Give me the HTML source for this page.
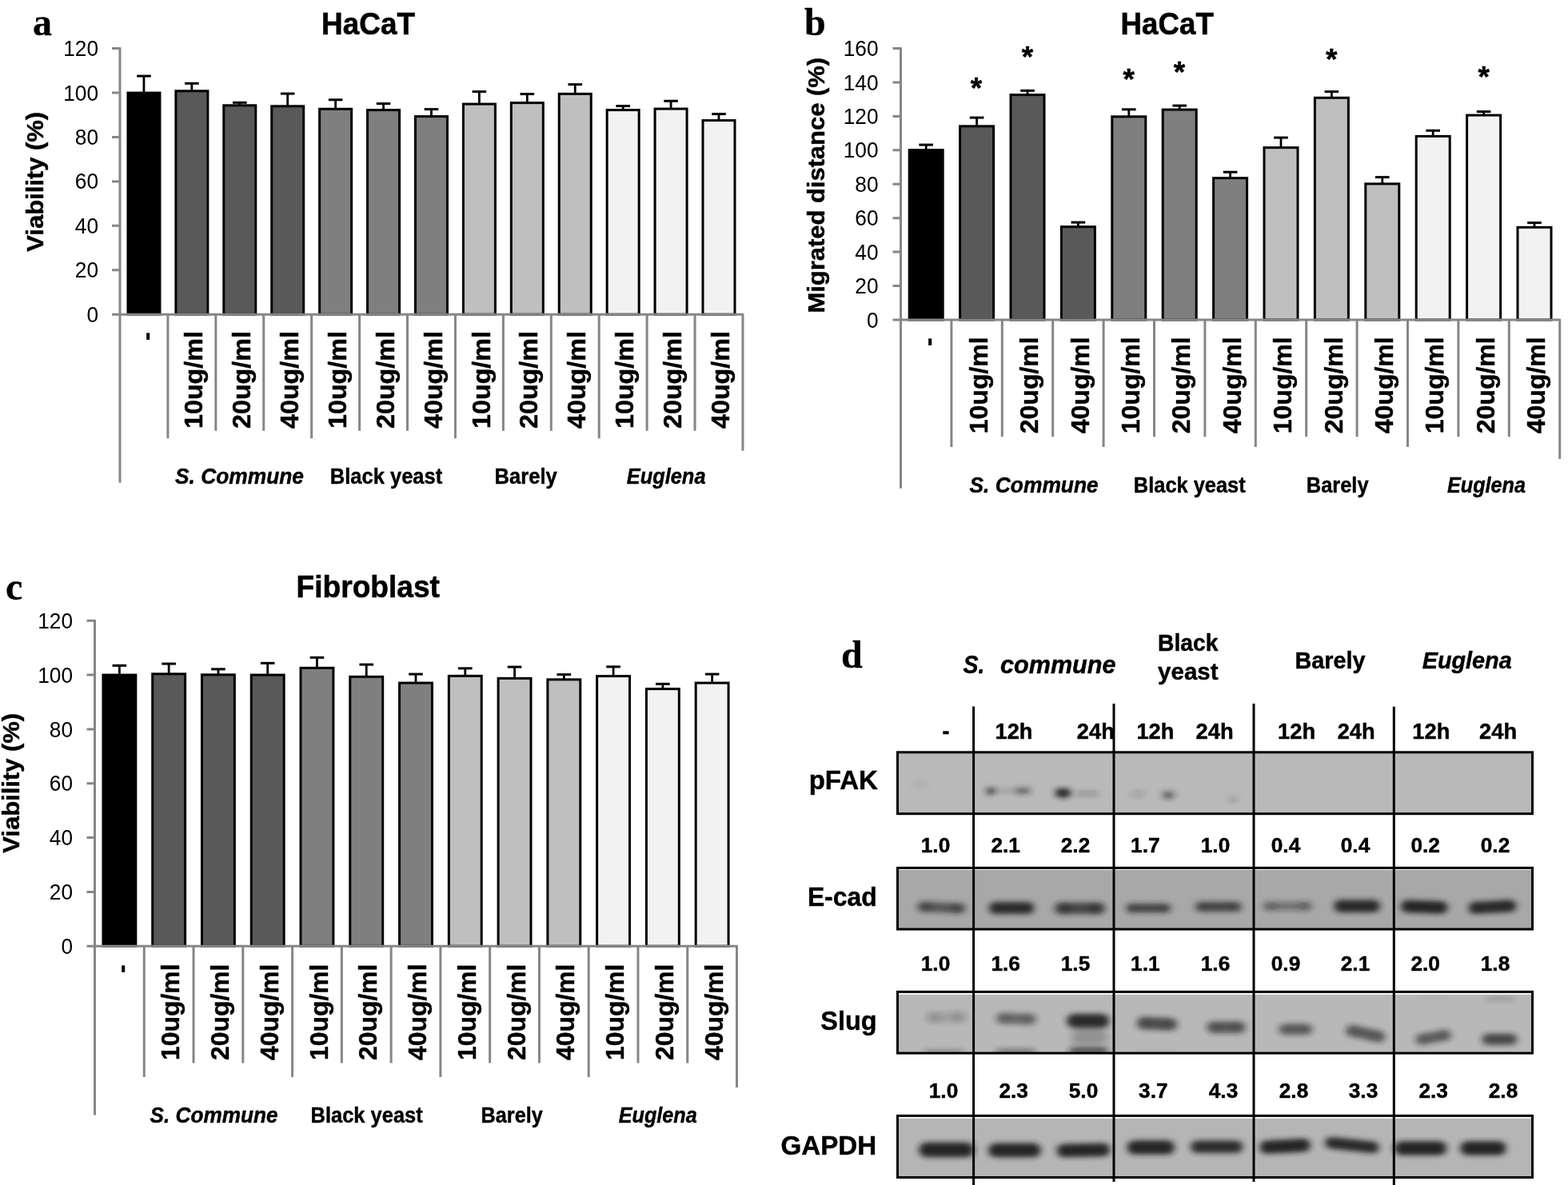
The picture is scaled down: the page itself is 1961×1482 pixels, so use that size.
<!DOCTYPE html>
<html lang="en">
<head>
<meta charset="utf-8">
<title>Figure: viability, migration and western blot</title>
<style>
html,body{margin:0;padding:0;background:#fff;}
body{width:1961px;height:1482px;overflow:hidden;}
svg{display:block;}
text{font-family:"Liberation Sans", sans-serif;fill:#000;}
text.sf{font-family:"Liberation Serif", serif;}
text.b{stroke:#000;stroke-width:0.45px;stroke-linejoin:round;}
text.sf.b{stroke-width:0.3px;}
text.m{stroke:#000;stroke-width:0.9px;stroke-linejoin:round;}
</style>
</head>
<body>
<svg width="1961" height="1482" viewBox="0 0 1961 1482">
<rect width="1961" height="1482" fill="#fff"/>
<g class="chart">
<line x1="179.96" y1="94.5" x2="179.96" y2="116" stroke="#000" stroke-width="2.8"/>
<line x1="171.16" y1="95.1" x2="188.76" y2="95.1" stroke="#000" stroke-width="3"/>
<rect x="159.96" y="116.1" width="40" height="277.15" fill="#000000" stroke="#000" stroke-width="3"/>
<line x1="239.88" y1="103.7" x2="239.88" y2="113.7" stroke="#000" stroke-width="2.8"/>
<line x1="231.08" y1="104.3" x2="248.68" y2="104.3" stroke="#000" stroke-width="3"/>
<rect x="219.88" y="113.8" width="40" height="279.45" fill="#595959" stroke="#000" stroke-width="3"/>
<line x1="299.8" y1="127.7" x2="299.8" y2="131.7" stroke="#000" stroke-width="2.8"/>
<line x1="291" y1="128.3" x2="308.6" y2="128.3" stroke="#000" stroke-width="3"/>
<rect x="279.8" y="131.8" width="40" height="261.45" fill="#595959" stroke="#000" stroke-width="3"/>
<line x1="359.72" y1="116.5" x2="359.72" y2="132.7" stroke="#000" stroke-width="2.8"/>
<line x1="350.92" y1="117.1" x2="368.52" y2="117.1" stroke="#000" stroke-width="3"/>
<rect x="339.72" y="132.8" width="40" height="260.45" fill="#595959" stroke="#000" stroke-width="3"/>
<line x1="419.64" y1="124.2" x2="419.64" y2="136.2" stroke="#000" stroke-width="2.8"/>
<line x1="410.84" y1="124.8" x2="428.44" y2="124.8" stroke="#000" stroke-width="3"/>
<rect x="399.64" y="136.3" width="40" height="256.95" fill="#7f7f7f" stroke="#000" stroke-width="3"/>
<line x1="479.56" y1="129" x2="479.56" y2="137.5" stroke="#000" stroke-width="2.8"/>
<line x1="470.76" y1="129.6" x2="488.36" y2="129.6" stroke="#000" stroke-width="3"/>
<rect x="459.56" y="137.6" width="40" height="255.65" fill="#7f7f7f" stroke="#000" stroke-width="3"/>
<line x1="539.48" y1="136" x2="539.48" y2="145.5" stroke="#000" stroke-width="2.8"/>
<line x1="530.68" y1="136.6" x2="548.28" y2="136.6" stroke="#000" stroke-width="3"/>
<rect x="519.48" y="145.6" width="40" height="247.65" fill="#7f7f7f" stroke="#000" stroke-width="3"/>
<line x1="599.4" y1="114" x2="599.4" y2="130" stroke="#000" stroke-width="2.8"/>
<line x1="590.6" y1="114.6" x2="608.2" y2="114.6" stroke="#000" stroke-width="3"/>
<rect x="579.4" y="130.1" width="40" height="263.15" fill="#bfbfbf" stroke="#000" stroke-width="3"/>
<line x1="659.32" y1="117" x2="659.32" y2="128.5" stroke="#000" stroke-width="2.8"/>
<line x1="650.52" y1="117.6" x2="668.12" y2="117.6" stroke="#000" stroke-width="3"/>
<rect x="639.32" y="128.6" width="40" height="264.65" fill="#bfbfbf" stroke="#000" stroke-width="3"/>
<line x1="719.24" y1="105" x2="719.24" y2="117.3" stroke="#000" stroke-width="2.8"/>
<line x1="710.44" y1="105.6" x2="728.04" y2="105.6" stroke="#000" stroke-width="3"/>
<rect x="699.24" y="117.4" width="40" height="275.85" fill="#bfbfbf" stroke="#000" stroke-width="3"/>
<line x1="779.16" y1="132" x2="779.16" y2="137.5" stroke="#000" stroke-width="2.8"/>
<line x1="770.36" y1="132.6" x2="787.96" y2="132.6" stroke="#000" stroke-width="3"/>
<rect x="759.16" y="137.6" width="40" height="255.65" fill="#f2f2f2" stroke="#000" stroke-width="3"/>
<line x1="839.08" y1="125.7" x2="839.08" y2="136" stroke="#000" stroke-width="2.8"/>
<line x1="830.28" y1="126.3" x2="847.88" y2="126.3" stroke="#000" stroke-width="3"/>
<rect x="819.08" y="136.1" width="40" height="257.15" fill="#f2f2f2" stroke="#000" stroke-width="3"/>
<line x1="899" y1="142" x2="899" y2="150.5" stroke="#000" stroke-width="2.8"/>
<line x1="890.2" y1="142.6" x2="907.8" y2="142.6" stroke="#000" stroke-width="3"/>
<rect x="879" y="150.6" width="40" height="242.65" fill="#f2f2f2" stroke="#000" stroke-width="3"/>
<path d="M150 59.3V603.75M140 393.25H930.16M140 60.5H150M140 115.96H150M140 171.42H150M140 226.88H150M140 282.33H150M140 337.79H150M209.92 393.25V548.25M269.84 393.25V538.75M329.76 393.25V538.75M389.68 393.25V548.25M449.6 393.25V538.75M509.52 393.25V538.75M569.44 393.25V548.25M629.36 393.25V538.75M689.28 393.25V538.75M749.2 393.25V548.25M809.12 393.25V538.75M869.04 393.25V538.75M928.96 393.25V563.75" fill="none" stroke="#868686" stroke-width="3"/>
<text x="123" y="70.1" font-size="27.8" text-anchor="end" textLength="43.8" lengthAdjust="spacingAndGlyphs">120</text>
<text x="123" y="125.56" font-size="27.8" text-anchor="end" textLength="43.8" lengthAdjust="spacingAndGlyphs">100</text>
<text x="123" y="181.02" font-size="27.8" text-anchor="end" textLength="29.2" lengthAdjust="spacingAndGlyphs">80</text>
<text x="123" y="236.47" font-size="27.8" text-anchor="end" textLength="29.2" lengthAdjust="spacingAndGlyphs">60</text>
<text x="123" y="291.93" font-size="27.8" text-anchor="end" textLength="29.2" lengthAdjust="spacingAndGlyphs">40</text>
<text x="123" y="347.39" font-size="27.8" text-anchor="end" textLength="29.2" lengthAdjust="spacingAndGlyphs">20</text>
<text x="123" y="402.85" font-size="27.8" text-anchor="end" textLength="14.6" lengthAdjust="spacingAndGlyphs">0</text>
<text x="252.98" y="536" font-size="31.5" font-weight="bold" textLength="122" lengthAdjust="spacingAndGlyphs" transform="rotate(-90 252.98 536)" class="b">10ug/ml</text>
<text x="312.9" y="536" font-size="31.5" font-weight="bold" textLength="122" lengthAdjust="spacingAndGlyphs" transform="rotate(-90 312.9 536)" class="b">20ug/ml</text>
<text x="372.82" y="536" font-size="31.5" font-weight="bold" textLength="122" lengthAdjust="spacingAndGlyphs" transform="rotate(-90 372.82 536)" class="b">40ug/ml</text>
<text x="432.74" y="536" font-size="31.5" font-weight="bold" textLength="122" lengthAdjust="spacingAndGlyphs" transform="rotate(-90 432.74 536)" class="b">10ug/ml</text>
<text x="492.66" y="536" font-size="31.5" font-weight="bold" textLength="122" lengthAdjust="spacingAndGlyphs" transform="rotate(-90 492.66 536)" class="b">20ug/ml</text>
<text x="552.58" y="536" font-size="31.5" font-weight="bold" textLength="122" lengthAdjust="spacingAndGlyphs" transform="rotate(-90 552.58 536)" class="b">40ug/ml</text>
<text x="612.5" y="536" font-size="31.5" font-weight="bold" textLength="122" lengthAdjust="spacingAndGlyphs" transform="rotate(-90 612.5 536)" class="b">10ug/ml</text>
<text x="672.42" y="536" font-size="31.5" font-weight="bold" textLength="122" lengthAdjust="spacingAndGlyphs" transform="rotate(-90 672.42 536)" class="b">20ug/ml</text>
<text x="732.34" y="536" font-size="31.5" font-weight="bold" textLength="122" lengthAdjust="spacingAndGlyphs" transform="rotate(-90 732.34 536)" class="b">40ug/ml</text>
<text x="792.26" y="536" font-size="31.5" font-weight="bold" textLength="122" lengthAdjust="spacingAndGlyphs" transform="rotate(-90 792.26 536)" class="b">10ug/ml</text>
<text x="852.18" y="536" font-size="31.5" font-weight="bold" textLength="122" lengthAdjust="spacingAndGlyphs" transform="rotate(-90 852.18 536)" class="b">20ug/ml</text>
<text x="912.1" y="536" font-size="31.5" font-weight="bold" textLength="122" lengthAdjust="spacingAndGlyphs" transform="rotate(-90 912.1 536)" class="b">40ug/ml</text>
<text x="192.96" y="426" font-size="31.5" font-weight="bold" transform="rotate(-90 192.96 426)" class="b">-</text>
<text x="219" y="605" font-size="27.5" font-weight="bold" font-style="italic" textLength="161" lengthAdjust="spacingAndGlyphs" class="b">S. Commune</text>
<text x="412.85" y="605" font-size="27.5" font-weight="bold" textLength="140.35" lengthAdjust="spacingAndGlyphs" class="b">Black yeast</text>
<text x="618.6" y="605" font-size="27.5" font-weight="bold" textLength="78.1" lengthAdjust="spacingAndGlyphs" class="b">Barely</text>
<text x="783.75" y="605" font-size="27.5" font-weight="bold" font-style="italic" textLength="98.75" lengthAdjust="spacingAndGlyphs" class="b">Euglena</text>
<text x="402.1" y="42.7" font-size="39.5" font-weight="bold" textLength="116.9" lengthAdjust="spacingAndGlyphs" class="b" style="stroke-width:0.6px">HaCaT</text>
<text x="54.3" y="314.8" font-size="29" font-weight="bold" textLength="175" lengthAdjust="spacingAndGlyphs" transform="rotate(-90 54.3 314.8)" class="b">Viability (%)</text>
<text x="41" y="44" font-size="48" font-weight="bold" class="b sf">a</text>
</g>
<g class="chart">
<line x1="1158.2" y1="180.5" x2="1158.2" y2="187.5" stroke="#000" stroke-width="2.8"/>
<line x1="1149.4" y1="181.1" x2="1167" y2="181.1" stroke="#000" stroke-width="3"/>
<rect x="1137.2" y="187.6" width="42" height="212.4" fill="#000000" stroke="#000" stroke-width="3"/>
<line x1="1221.6" y1="146.5" x2="1221.6" y2="157.75" stroke="#000" stroke-width="2.8"/>
<line x1="1212.8" y1="147.1" x2="1230.4" y2="147.1" stroke="#000" stroke-width="3"/>
<rect x="1200.6" y="157.85" width="42" height="242.15" fill="#595959" stroke="#000" stroke-width="3"/>
<line x1="1285" y1="112.75" x2="1285" y2="118.5" stroke="#000" stroke-width="2.8"/>
<line x1="1276.2" y1="113.35" x2="1293.8" y2="113.35" stroke="#000" stroke-width="3"/>
<rect x="1264" y="118.6" width="42" height="281.4" fill="#595959" stroke="#000" stroke-width="3"/>
<line x1="1348.4" y1="277.5" x2="1348.4" y2="283.5" stroke="#000" stroke-width="2.8"/>
<line x1="1339.6" y1="278.1" x2="1357.2" y2="278.1" stroke="#000" stroke-width="3"/>
<rect x="1327.4" y="283.6" width="42" height="116.4" fill="#595959" stroke="#000" stroke-width="3"/>
<line x1="1411.8" y1="136.25" x2="1411.8" y2="145.75" stroke="#000" stroke-width="2.8"/>
<line x1="1403" y1="136.85" x2="1420.6" y2="136.85" stroke="#000" stroke-width="3"/>
<rect x="1390.8" y="145.85" width="42" height="254.15" fill="#7f7f7f" stroke="#000" stroke-width="3"/>
<line x1="1475.2" y1="131.5" x2="1475.2" y2="137" stroke="#000" stroke-width="2.8"/>
<line x1="1466.4" y1="132.1" x2="1484" y2="132.1" stroke="#000" stroke-width="3"/>
<rect x="1454.2" y="137.1" width="42" height="262.9" fill="#7f7f7f" stroke="#000" stroke-width="3"/>
<line x1="1538.6" y1="214.6" x2="1538.6" y2="222.6" stroke="#000" stroke-width="2.8"/>
<line x1="1529.8" y1="215.2" x2="1547.4" y2="215.2" stroke="#000" stroke-width="3"/>
<rect x="1517.6" y="222.7" width="42" height="177.3" fill="#7f7f7f" stroke="#000" stroke-width="3"/>
<line x1="1602" y1="171.5" x2="1602" y2="184.5" stroke="#000" stroke-width="2.8"/>
<line x1="1593.2" y1="172.1" x2="1610.8" y2="172.1" stroke="#000" stroke-width="3"/>
<rect x="1581" y="184.6" width="42" height="215.4" fill="#bfbfbf" stroke="#000" stroke-width="3"/>
<line x1="1665.4" y1="114" x2="1665.4" y2="122.2" stroke="#000" stroke-width="2.8"/>
<line x1="1656.6" y1="114.6" x2="1674.2" y2="114.6" stroke="#000" stroke-width="3"/>
<rect x="1644.4" y="122.3" width="42" height="277.7" fill="#bfbfbf" stroke="#000" stroke-width="3"/>
<line x1="1728.8" y1="221" x2="1728.8" y2="229.8" stroke="#000" stroke-width="2.8"/>
<line x1="1720" y1="221.6" x2="1737.6" y2="221.6" stroke="#000" stroke-width="3"/>
<rect x="1707.8" y="229.9" width="42" height="170.1" fill="#bfbfbf" stroke="#000" stroke-width="3"/>
<line x1="1792.2" y1="162.7" x2="1792.2" y2="170.3" stroke="#000" stroke-width="2.8"/>
<line x1="1783.4" y1="163.3" x2="1801" y2="163.3" stroke="#000" stroke-width="3"/>
<rect x="1771.2" y="170.4" width="42" height="229.6" fill="#f2f2f2" stroke="#000" stroke-width="3"/>
<line x1="1855.6" y1="139" x2="1855.6" y2="144" stroke="#000" stroke-width="2.8"/>
<line x1="1846.8" y1="139.6" x2="1864.4" y2="139.6" stroke="#000" stroke-width="3"/>
<rect x="1834.6" y="144.1" width="42" height="255.9" fill="#f2f2f2" stroke="#000" stroke-width="3"/>
<line x1="1919" y1="278" x2="1919" y2="284.2" stroke="#000" stroke-width="2.8"/>
<line x1="1910.2" y1="278.6" x2="1927.8" y2="278.6" stroke="#000" stroke-width="3"/>
<rect x="1898" y="284.3" width="42" height="115.7" fill="#f2f2f2" stroke="#000" stroke-width="3"/>
<path d="M1126.5 59.3V610.75M1116.5 400H1951.9M1116.5 60.5H1126.5M1116.5 102.94H1126.5M1116.5 145.38H1126.5M1116.5 187.81H1126.5M1116.5 230.25H1126.5M1116.5 272.69H1126.5M1116.5 315.12H1126.5M1116.5 357.56H1126.5M1189.9 400V559M1253.3 400V546.25M1316.7 400V546.25M1380.1 400V559M1443.5 400V546.25M1506.9 400V546.25M1570.3 400V559M1633.7 400V546.25M1697.1 400V546.25M1760.5 400V559M1823.9 400V546.25M1887.3 400V546.25M1950.7 400V574" fill="none" stroke="#868686" stroke-width="3"/>
<text x="1098.5" y="70.1" font-size="27.8" text-anchor="end" textLength="43.8" lengthAdjust="spacingAndGlyphs">160</text>
<text x="1098.5" y="112.54" font-size="27.8" text-anchor="end" textLength="43.8" lengthAdjust="spacingAndGlyphs">140</text>
<text x="1098.5" y="154.97" font-size="27.8" text-anchor="end" textLength="43.8" lengthAdjust="spacingAndGlyphs">120</text>
<text x="1098.5" y="197.41" font-size="27.8" text-anchor="end" textLength="43.8" lengthAdjust="spacingAndGlyphs">100</text>
<text x="1098.5" y="239.85" font-size="27.8" text-anchor="end" textLength="29.2" lengthAdjust="spacingAndGlyphs">80</text>
<text x="1098.5" y="282.29" font-size="27.8" text-anchor="end" textLength="29.2" lengthAdjust="spacingAndGlyphs">60</text>
<text x="1098.5" y="324.73" font-size="27.8" text-anchor="end" textLength="29.2" lengthAdjust="spacingAndGlyphs">40</text>
<text x="1098.5" y="367.16" font-size="27.8" text-anchor="end" textLength="29.2" lengthAdjust="spacingAndGlyphs">20</text>
<text x="1098.5" y="409.6" font-size="27.8" text-anchor="end" textLength="14.6" lengthAdjust="spacingAndGlyphs">0</text>
<text x="1234.7" y="542.25" font-size="31.5" font-weight="bold" textLength="121" lengthAdjust="spacingAndGlyphs" transform="rotate(-90 1234.7 542.25)" class="b">10ug/ml</text>
<text x="1298.1" y="542.25" font-size="31.5" font-weight="bold" textLength="121" lengthAdjust="spacingAndGlyphs" transform="rotate(-90 1298.1 542.25)" class="b">20ug/ml</text>
<text x="1361.5" y="542.25" font-size="31.5" font-weight="bold" textLength="121" lengthAdjust="spacingAndGlyphs" transform="rotate(-90 1361.5 542.25)" class="b">40ug/ml</text>
<text x="1424.9" y="542.25" font-size="31.5" font-weight="bold" textLength="121" lengthAdjust="spacingAndGlyphs" transform="rotate(-90 1424.9 542.25)" class="b">10ug/ml</text>
<text x="1488.3" y="542.25" font-size="31.5" font-weight="bold" textLength="121" lengthAdjust="spacingAndGlyphs" transform="rotate(-90 1488.3 542.25)" class="b">20ug/ml</text>
<text x="1551.7" y="542.25" font-size="31.5" font-weight="bold" textLength="121" lengthAdjust="spacingAndGlyphs" transform="rotate(-90 1551.7 542.25)" class="b">40ug/ml</text>
<text x="1615.1" y="542.25" font-size="31.5" font-weight="bold" textLength="121" lengthAdjust="spacingAndGlyphs" transform="rotate(-90 1615.1 542.25)" class="b">10ug/ml</text>
<text x="1678.5" y="542.25" font-size="31.5" font-weight="bold" textLength="121" lengthAdjust="spacingAndGlyphs" transform="rotate(-90 1678.5 542.25)" class="b">20ug/ml</text>
<text x="1741.9" y="542.25" font-size="31.5" font-weight="bold" textLength="121" lengthAdjust="spacingAndGlyphs" transform="rotate(-90 1741.9 542.25)" class="b">40ug/ml</text>
<text x="1805.3" y="542.25" font-size="31.5" font-weight="bold" textLength="121" lengthAdjust="spacingAndGlyphs" transform="rotate(-90 1805.3 542.25)" class="b">10ug/ml</text>
<text x="1868.7" y="542.25" font-size="31.5" font-weight="bold" textLength="121" lengthAdjust="spacingAndGlyphs" transform="rotate(-90 1868.7 542.25)" class="b">20ug/ml</text>
<text x="1932.1" y="542.25" font-size="31.5" font-weight="bold" textLength="121" lengthAdjust="spacingAndGlyphs" transform="rotate(-90 1932.1 542.25)" class="b">40ug/ml</text>
<text x="1171.2" y="433" font-size="31.5" font-weight="bold" transform="rotate(-90 1171.2 433)" class="b">-</text>
<text x="1212.5" y="615.5" font-size="27.5" font-weight="bold" font-style="italic" textLength="161.25" lengthAdjust="spacingAndGlyphs" class="b">S. Commune</text>
<text x="1417.85" y="615.5" font-size="27.5" font-weight="bold" textLength="139.85" lengthAdjust="spacingAndGlyphs" class="b">Black yeast</text>
<text x="1633.8" y="615.5" font-size="27.5" font-weight="bold" textLength="77.8" lengthAdjust="spacingAndGlyphs" class="b">Barely</text>
<text x="1810" y="615.5" font-size="27.5" font-weight="bold" font-style="italic" textLength="98" lengthAdjust="spacingAndGlyphs" class="b">Euglena</text>
<text x="1401.6" y="42.7" font-size="39.5" font-weight="bold" textLength="116.2" lengthAdjust="spacingAndGlyphs" class="b" style="stroke-width:0.6px">HaCaT</text>
<text x="1031.3" y="391.5" font-size="29" font-weight="bold" textLength="319.5" lengthAdjust="spacingAndGlyphs" transform="rotate(-90 1031.3 391.5)" class="b">Migrated distance (%)</text>
<text x="1006" y="43.5" font-size="48" font-weight="bold" class="b sf">b</text>
<text x="1221" y="123" font-size="37" font-weight="bold" text-anchor="middle" class="b">*</text>
<text x="1285" y="84" font-size="37" font-weight="bold" text-anchor="middle" class="b">*</text>
<text x="1411.75" y="112" font-size="37" font-weight="bold" text-anchor="middle" class="b">*</text>
<text x="1475" y="103" font-size="37" font-weight="bold" text-anchor="middle" class="b">*</text>
<text x="1665.3" y="87" font-size="37" font-weight="bold" text-anchor="middle" class="b">*</text>
<text x="1855.6" y="109" font-size="37" font-weight="bold" text-anchor="middle" class="b">*</text>
</g>
<g class="chart">
<line x1="149.38" y1="831.75" x2="149.38" y2="844" stroke="#000" stroke-width="2.8"/>
<line x1="140.58" y1="832.35" x2="158.19" y2="832.35" stroke="#000" stroke-width="3"/>
<rect x="128.94" y="844.1" width="40.9" height="339.15" fill="#000000" stroke="#000" stroke-width="3"/>
<line x1="211.16" y1="829.5" x2="211.16" y2="842.75" stroke="#000" stroke-width="2.8"/>
<line x1="202.35" y1="830.1" x2="219.96" y2="830.1" stroke="#000" stroke-width="3"/>
<rect x="190.71" y="842.85" width="40.9" height="340.4" fill="#595959" stroke="#000" stroke-width="3"/>
<line x1="272.93" y1="836.25" x2="272.93" y2="843.75" stroke="#000" stroke-width="2.8"/>
<line x1="264.12" y1="836.85" x2="281.73" y2="836.85" stroke="#000" stroke-width="3"/>
<rect x="252.48" y="843.85" width="40.9" height="339.4" fill="#595959" stroke="#000" stroke-width="3"/>
<line x1="334.7" y1="828.75" x2="334.7" y2="844" stroke="#000" stroke-width="2.8"/>
<line x1="325.9" y1="829.35" x2="343.5" y2="829.35" stroke="#000" stroke-width="3"/>
<rect x="314.25" y="844.1" width="40.9" height="339.15" fill="#595959" stroke="#000" stroke-width="3"/>
<line x1="396.47" y1="821.75" x2="396.47" y2="835.25" stroke="#000" stroke-width="2.8"/>
<line x1="387.67" y1="822.35" x2="405.27" y2="822.35" stroke="#000" stroke-width="3"/>
<rect x="376.02" y="835.35" width="40.9" height="347.9" fill="#7f7f7f" stroke="#000" stroke-width="3"/>
<line x1="458.24" y1="830.5" x2="458.24" y2="846.25" stroke="#000" stroke-width="2.8"/>
<line x1="449.44" y1="831.1" x2="467.04" y2="831.1" stroke="#000" stroke-width="3"/>
<rect x="437.79" y="846.35" width="40.9" height="336.9" fill="#7f7f7f" stroke="#000" stroke-width="3"/>
<line x1="520" y1="842.5" x2="520" y2="854" stroke="#000" stroke-width="2.8"/>
<line x1="511.2" y1="843.1" x2="528.8" y2="843.1" stroke="#000" stroke-width="3"/>
<rect x="499.56" y="854.1" width="40.9" height="329.15" fill="#7f7f7f" stroke="#000" stroke-width="3"/>
<line x1="581.78" y1="835.25" x2="581.78" y2="845.25" stroke="#000" stroke-width="2.8"/>
<line x1="572.98" y1="835.85" x2="590.58" y2="835.85" stroke="#000" stroke-width="3"/>
<rect x="561.33" y="845.35" width="40.9" height="337.9" fill="#bfbfbf" stroke="#000" stroke-width="3"/>
<line x1="643.55" y1="833.5" x2="643.55" y2="848.25" stroke="#000" stroke-width="2.8"/>
<line x1="634.75" y1="834.1" x2="652.35" y2="834.1" stroke="#000" stroke-width="3"/>
<rect x="623.1" y="848.35" width="40.9" height="334.9" fill="#bfbfbf" stroke="#000" stroke-width="3"/>
<line x1="705.32" y1="843" x2="705.32" y2="849.75" stroke="#000" stroke-width="2.8"/>
<line x1="696.52" y1="843.6" x2="714.12" y2="843.6" stroke="#000" stroke-width="3"/>
<rect x="684.87" y="849.85" width="40.9" height="333.4" fill="#bfbfbf" stroke="#000" stroke-width="3"/>
<line x1="767.09" y1="833.25" x2="767.09" y2="845.5" stroke="#000" stroke-width="2.8"/>
<line x1="758.29" y1="833.85" x2="775.88" y2="833.85" stroke="#000" stroke-width="3"/>
<rect x="746.63" y="845.6" width="40.9" height="337.65" fill="#f2f2f2" stroke="#000" stroke-width="3"/>
<line x1="828.86" y1="854.75" x2="828.86" y2="861.5" stroke="#000" stroke-width="2.8"/>
<line x1="820.06" y1="855.35" x2="837.65" y2="855.35" stroke="#000" stroke-width="3"/>
<rect x="808.4" y="861.6" width="40.9" height="321.65" fill="#f2f2f2" stroke="#000" stroke-width="3"/>
<line x1="890.62" y1="842.5" x2="890.62" y2="854" stroke="#000" stroke-width="2.8"/>
<line x1="881.83" y1="843.1" x2="899.42" y2="843.1" stroke="#000" stroke-width="3"/>
<rect x="870.17" y="854.1" width="40.9" height="329.15" fill="#f2f2f2" stroke="#000" stroke-width="3"/>
<path d="M118.5 775.05V1394.5M108.5 1183.25H922.71M108.5 776.25H118.5M108.5 844.08H118.5M108.5 911.92H118.5M108.5 979.75H118.5M108.5 1047.58H118.5M108.5 1115.42H118.5M180.27 1183.25V1347M242.04 1183.25V1329.5M303.81 1183.25V1329.5M365.58 1183.25V1347M427.35 1183.25V1329.5M489.12 1183.25V1329.5M550.89 1183.25V1347M612.66 1183.25V1329.5M674.43 1183.25V1329.5M736.2 1183.25V1347M797.97 1183.25V1329.5M859.74 1183.25V1329.5M921.51 1183.25V1360" fill="none" stroke="#868686" stroke-width="3"/>
<text x="91" y="785.85" font-size="27.8" text-anchor="end" textLength="43.8" lengthAdjust="spacingAndGlyphs">120</text>
<text x="91" y="853.68" font-size="27.8" text-anchor="end" textLength="43.8" lengthAdjust="spacingAndGlyphs">100</text>
<text x="91" y="921.52" font-size="27.8" text-anchor="end" textLength="29.2" lengthAdjust="spacingAndGlyphs">80</text>
<text x="91" y="989.35" font-size="27.8" text-anchor="end" textLength="29.2" lengthAdjust="spacingAndGlyphs">60</text>
<text x="91" y="1057.18" font-size="27.8" text-anchor="end" textLength="29.2" lengthAdjust="spacingAndGlyphs">40</text>
<text x="91" y="1125.02" font-size="27.8" text-anchor="end" textLength="29.2" lengthAdjust="spacingAndGlyphs">20</text>
<text x="91" y="1192.85" font-size="27.8" text-anchor="end" textLength="14.6" lengthAdjust="spacingAndGlyphs">0</text>
<text x="224.25" y="1326" font-size="31.5" font-weight="bold" textLength="120.5" lengthAdjust="spacingAndGlyphs" transform="rotate(-90 224.25 1326)" class="b">10ug/ml</text>
<text x="286.03" y="1326" font-size="31.5" font-weight="bold" textLength="120.5" lengthAdjust="spacingAndGlyphs" transform="rotate(-90 286.03 1326)" class="b">20ug/ml</text>
<text x="347.8" y="1326" font-size="31.5" font-weight="bold" textLength="120.5" lengthAdjust="spacingAndGlyphs" transform="rotate(-90 347.8 1326)" class="b">40ug/ml</text>
<text x="409.57" y="1326" font-size="31.5" font-weight="bold" textLength="120.5" lengthAdjust="spacingAndGlyphs" transform="rotate(-90 409.57 1326)" class="b">10ug/ml</text>
<text x="471.34" y="1326" font-size="31.5" font-weight="bold" textLength="120.5" lengthAdjust="spacingAndGlyphs" transform="rotate(-90 471.34 1326)" class="b">20ug/ml</text>
<text x="533.11" y="1326" font-size="31.5" font-weight="bold" textLength="120.5" lengthAdjust="spacingAndGlyphs" transform="rotate(-90 533.11 1326)" class="b">40ug/ml</text>
<text x="594.88" y="1326" font-size="31.5" font-weight="bold" textLength="120.5" lengthAdjust="spacingAndGlyphs" transform="rotate(-90 594.88 1326)" class="b">10ug/ml</text>
<text x="656.65" y="1326" font-size="31.5" font-weight="bold" textLength="120.5" lengthAdjust="spacingAndGlyphs" transform="rotate(-90 656.65 1326)" class="b">20ug/ml</text>
<text x="718.42" y="1326" font-size="31.5" font-weight="bold" textLength="120.5" lengthAdjust="spacingAndGlyphs" transform="rotate(-90 718.42 1326)" class="b">40ug/ml</text>
<text x="780.19" y="1326" font-size="31.5" font-weight="bold" textLength="120.5" lengthAdjust="spacingAndGlyphs" transform="rotate(-90 780.19 1326)" class="b">10ug/ml</text>
<text x="841.96" y="1326" font-size="31.5" font-weight="bold" textLength="120.5" lengthAdjust="spacingAndGlyphs" transform="rotate(-90 841.96 1326)" class="b">20ug/ml</text>
<text x="903.73" y="1326" font-size="31.5" font-weight="bold" textLength="120.5" lengthAdjust="spacingAndGlyphs" transform="rotate(-90 903.73 1326)" class="b">40ug/ml</text>
<text x="162.38" y="1217" font-size="31.5" font-weight="bold" transform="rotate(-90 162.38 1217)" class="b">-</text>
<text x="187.5" y="1403.75" font-size="27.5" font-weight="bold" font-style="italic" textLength="160" lengthAdjust="spacingAndGlyphs" class="b">S. Commune</text>
<text x="388.6" y="1403.75" font-size="27.5" font-weight="bold" textLength="140.1" lengthAdjust="spacingAndGlyphs" class="b">Black yeast</text>
<text x="601.6" y="1403.75" font-size="27.5" font-weight="bold" textLength="77.1" lengthAdjust="spacingAndGlyphs" class="b">Barely</text>
<text x="773.75" y="1403.75" font-size="27.5" font-weight="bold" font-style="italic" textLength="98" lengthAdjust="spacingAndGlyphs" class="b">Euglena</text>
<text x="370.6" y="746.8" font-size="39.5" font-weight="bold" textLength="179.4" lengthAdjust="spacingAndGlyphs" class="b" style="stroke-width:0.6px">Fibroblast</text>
<text x="24" y="1066.8" font-size="29" font-weight="bold" textLength="175" lengthAdjust="spacingAndGlyphs" transform="rotate(-90 24 1066.8)" class="b">Viability (%)</text>
<text x="7" y="750" font-size="48" font-weight="bold" class="b sf">c</text>
</g>
<defs><filter id="bl" x="-5%" y="-5%" width="110%" height="110%" filterUnits="userSpaceOnUse" primitiveUnits="userSpaceOnUse"><feGaussianBlur stdDeviation="4.0 3.0"/></filter>
<clipPath id="cp-pfak"><rect x="1122.5" y="940.8" width="794" height="76.9"/></clipPath>
<clipPath id="cp-ecad"><rect x="1122.5" y="1085.4" width="794" height="76.7"/></clipPath>
<clipPath id="cp-slug"><rect x="1122.5" y="1240.4" width="794" height="76.7"/></clipPath>
<clipPath id="cp-gapdh"><rect x="1122.5" y="1395.4" width="794" height="77.1"/></clipPath>
</defs>
<g class="strip" id="pfak">
<rect x="1122.5" y="940.8" width="794" height="76.9" fill="#b9b9b9"/>
<g clip-path="url(#cp-pfak)"><g filter="url(#bl)" stroke="#1e1e1e" stroke-linecap="round" fill="#1e1e1e">
<line x1="1237.55" y1="989.3" x2="1240.45" y2="989.3" stroke-width="8.5" stroke-opacity="0.75"/>
<line x1="1273.55" y1="989" x2="1284.95" y2="989" stroke-width="7.5" stroke-opacity="0.55"/>
<line x1="1244.55" y1="989" x2="1271.45" y2="989" stroke-width="3.5" stroke-opacity="0.2"/>
<line x1="1325.55" y1="991.8" x2="1333.45" y2="991.8" stroke-width="11.5" stroke-opacity="0.95"/>
<line x1="1347.55" y1="992.5" x2="1371.45" y2="992.5" stroke-width="5.5" stroke-opacity="0.25"/>
<line x1="1418.05" y1="993" x2="1427.95" y2="993" stroke-width="6.5" stroke-opacity="0.2"/>
<line x1="1458.3" y1="994.4" x2="1464.2" y2="994.4" stroke-width="9" stroke-opacity="0.6"/>
<line x1="1142.55" y1="981" x2="1158.45" y2="981" stroke-width="5.5" stroke-opacity="0.08"/>
<line x1="1539.55" y1="999.7" x2="1544.45" y2="999.7" stroke-width="5.5" stroke-opacity="0.25"/>
</g></g>
<rect x="1122.5" y="940.8" width="794" height="76.9" fill="none" stroke="#000" stroke-width="3"/>
</g>
<g class="strip" id="ecad">
<rect x="1122.5" y="1085.4" width="794" height="76.7" fill="#a8a8a8"/>
<g clip-path="url(#cp-ecad)"><g filter="url(#bl)" stroke="#1e1e1e" stroke-linecap="round" fill="#1e1e1e">
<line x1="1154.55" y1="1134" x2="1200.25" y2="1136" stroke-width="12.5" stroke-opacity="0.6"/>
<ellipse cx="1156.55" cy="1134" rx="9.75" ry="6.75" stroke="none" fill-opacity="0.3"/>
<ellipse cx="1198.25" cy="1136" rx="9.75" ry="6.75" stroke="none" fill-opacity="0.3"/>
<line x1="1244.7" y1="1135.6" x2="1285.7" y2="1135.6" stroke-width="15" stroke-opacity="0.9"/>
<ellipse cx="1246.7" cy="1135.6" rx="11" ry="8" stroke="none" fill-opacity="0.1"/>
<ellipse cx="1283.7" cy="1135.6" rx="11" ry="8" stroke="none" fill-opacity="0.1"/>
<line x1="1327.05" y1="1136" x2="1373.95" y2="1136" stroke-width="14.5" stroke-opacity="0.7"/>
<ellipse cx="1329.05" cy="1136" rx="10.75" ry="7.75" stroke="none" fill-opacity="0.3"/>
<ellipse cx="1371.95" cy="1136" rx="10.75" ry="7.75" stroke="none" fill-opacity="0.3"/>
<line x1="1414.1" y1="1135.8" x2="1458.2" y2="1135.8" stroke-width="11" stroke-opacity="0.72"/>
<ellipse cx="1416.1" cy="1135.8" rx="9" ry="6" stroke="none" fill-opacity="0.1"/>
<ellipse cx="1456.2" cy="1135.8" rx="9" ry="6" stroke="none" fill-opacity="0.1"/>
<line x1="1501.4" y1="1134" x2="1546.2" y2="1134" stroke-width="12" stroke-opacity="0.72"/>
<ellipse cx="1503.4" cy="1134" rx="9.5" ry="6.5" stroke="none" fill-opacity="0.1"/>
<ellipse cx="1544.2" cy="1134" rx="9.5" ry="6.5" stroke="none" fill-opacity="0.1"/>
<line x1="1586.05" y1="1133.3" x2="1634.75" y2="1133.3" stroke-width="10.5" stroke-opacity="0.4"/>
<ellipse cx="1588.05" cy="1133.3" rx="8.75" ry="5.75" stroke="none" fill-opacity="0.25"/>
<ellipse cx="1632.75" cy="1133.3" rx="8.75" ry="5.75" stroke="none" fill-opacity="0.25"/>
<line x1="1676.35" y1="1133.3" x2="1717.95" y2="1133.3" stroke-width="15.5" stroke-opacity="0.92"/>
<ellipse cx="1678.35" cy="1133.3" rx="11.25" ry="8.25" stroke="none" fill-opacity="0.08"/>
<ellipse cx="1715.95" cy="1133.3" rx="11.25" ry="8.25" stroke="none" fill-opacity="0.08"/>
<line x1="1759.95" y1="1133.5" x2="1802.65" y2="1135" stroke-width="15.5" stroke-opacity="0.95"/>
<ellipse cx="1761.95" cy="1133.5" rx="11.25" ry="8.25" stroke="none" fill-opacity="0.05"/>
<ellipse cx="1800.65" cy="1135" rx="11.25" ry="8.25" stroke="none" fill-opacity="0.05"/>
<line x1="1844.3" y1="1135.5" x2="1888.7" y2="1133" stroke-width="15" stroke-opacity="0.92"/>
<ellipse cx="1846.3" cy="1135.5" rx="11" ry="8" stroke="none" fill-opacity="0.08"/>
<ellipse cx="1886.7" cy="1133" rx="11" ry="8" stroke="none" fill-opacity="0.08"/>
</g></g>
<rect x="1124" y="1086.9" width="791" height="1.0" fill="#fff" fill-opacity="0.9"/>
<rect x="1122.5" y="1085.4" width="794" height="76.7" fill="none" stroke="#000" stroke-width="3"/>
</g>
<g class="strip" id="slug">
<rect x="1122.5" y="1240.4" width="794" height="76.7" fill="#b8b8b8"/>
<g clip-path="url(#cp-slug)"><g filter="url(#bl)" stroke="#1e1e1e" stroke-linecap="round" fill="#1e1e1e">
<line x1="1166.05" y1="1272.5" x2="1200.95" y2="1272" stroke-width="12.5" stroke-opacity="0.17"/>
<ellipse cx="1168.05" cy="1272.5" rx="9.75" ry="6.75" stroke="none" fill-opacity="0.12"/>
<ellipse cx="1198.95" cy="1272" rx="9.75" ry="6.75" stroke="none" fill-opacity="0.12"/>
<line x1="1253.35" y1="1273.5" x2="1288.45" y2="1274.5" stroke-width="13.5" stroke-opacity="0.52"/>
<ellipse cx="1255.35" cy="1273.5" rx="10.25" ry="7.25" stroke="none" fill-opacity="0.12"/>
<ellipse cx="1286.45" cy="1274.5" rx="10.25" ry="7.25" stroke="none" fill-opacity="0.12"/>
<line x1="1343.15" y1="1276.8" x2="1378.45" y2="1276.8" stroke-width="17.5" stroke-opacity="0.92"/>
<ellipse cx="1345.15" cy="1276.8" rx="12.25" ry="9.25" stroke="none" fill-opacity="0.05"/>
<ellipse cx="1376.45" cy="1276.8" rx="12.25" ry="9.25" stroke="none" fill-opacity="0.05"/>
<line x1="1349.55" y1="1297" x2="1375.45" y2="1297" stroke-width="19.5" stroke-opacity="0.25"/>
<line x1="1341.55" y1="1314" x2="1381.45" y2="1314" stroke-width="7.5" stroke-opacity="0.75"/>
<line x1="1249.05" y1="1315" x2="1291.95" y2="1315" stroke-width="6.5" stroke-opacity="0.45"/>
<line x1="1158.55" y1="1315.5" x2="1202.45" y2="1315.5" stroke-width="5.5" stroke-opacity="0.3"/>
<line x1="1429.95" y1="1279.5" x2="1464.25" y2="1281" stroke-width="15.5" stroke-opacity="0.68"/>
<ellipse cx="1431.95" cy="1279.5" rx="11.25" ry="8.25" stroke="none" fill-opacity="0.1"/>
<ellipse cx="1462.25" cy="1281" rx="11.25" ry="8.25" stroke="none" fill-opacity="0.1"/>
<line x1="1424.55" y1="1317" x2="1465.45" y2="1317" stroke-width="3.5" stroke-opacity="0.1"/>
<line x1="1517.05" y1="1284.8" x2="1549.95" y2="1284.8" stroke-width="14.5" stroke-opacity="0.64"/>
<ellipse cx="1519.05" cy="1284.8" rx="10.75" ry="7.75" stroke="none" fill-opacity="0.1"/>
<ellipse cx="1547.95" cy="1284.8" rx="10.75" ry="7.75" stroke="none" fill-opacity="0.1"/>
<line x1="1606.35" y1="1287.3" x2="1634.25" y2="1287.3" stroke-width="13.5" stroke-opacity="0.62"/>
<line x1="1690.45" y1="1289" x2="1724.75" y2="1296.5" stroke-width="14.5" stroke-opacity="0.62"/>
<ellipse cx="1692.45" cy="1289" rx="10.75" ry="7.75" stroke="none" fill-opacity="0.05"/>
<ellipse cx="1722.75" cy="1296.5" rx="10.75" ry="7.75" stroke="none" fill-opacity="0.05"/>
<line x1="1777.55" y1="1299.8" x2="1807.75" y2="1294.6" stroke-width="13.5" stroke-opacity="0.58"/>
<ellipse cx="1779.55" cy="1299.8" rx="10.25" ry="7.25" stroke="none" fill-opacity="0.1"/>
<ellipse cx="1805.75" cy="1294.6" rx="10.25" ry="7.25" stroke="none" fill-opacity="0.1"/>
<line x1="1860.6" y1="1299.8" x2="1890.2" y2="1299.8" stroke-width="14" stroke-opacity="0.72"/>
<line x1="1860.55" y1="1249" x2="1891.45" y2="1249" stroke-width="5.5" stroke-opacity="0.18"/>
<line x1="1776.3" y1="1246" x2="1810.7" y2="1246" stroke-width="3" stroke-opacity="0.08"/>
</g></g>
<rect x="1124" y="1241.9" width="791" height="2.0" fill="#fff" fill-opacity="0.9"/>
<rect x="1122.5" y="1240.4" width="794" height="76.7" fill="none" stroke="#000" stroke-width="3"/>
</g>
<g class="strip" id="gapdh">
<rect x="1122.5" y="1395.4" width="794" height="77.1" fill="#b5b5b5"/>
<g clip-path="url(#cp-gapdh)"><g filter="url(#bl)" stroke="#1e1e1e" stroke-linecap="round" fill="#1e1e1e">
<line x1="1158.65" y1="1438" x2="1208.75" y2="1438" stroke-width="18.5" stroke-opacity="0.95"/>
<line x1="1244.95" y1="1438.5" x2="1292.85" y2="1438.5" stroke-width="17.5" stroke-opacity="0.95"/>
<line x1="1330.05" y1="1439" x2="1379.95" y2="1438" stroke-width="16.5" stroke-opacity="0.95"/>
<line x1="1418.45" y1="1435" x2="1460.15" y2="1435" stroke-width="17.5" stroke-opacity="0.95"/>
<line x1="1496.85" y1="1434.3" x2="1546.45" y2="1434.3" stroke-width="15.5" stroke-opacity="0.9"/>
<line x1="1583.75" y1="1434.8" x2="1630.65" y2="1432.3" stroke-width="16.5" stroke-opacity="0.95"/>
<line x1="1664.35" y1="1429.3" x2="1717.35" y2="1435" stroke-width="14.5" stroke-opacity="0.92"/>
<line x1="1752.55" y1="1436" x2="1800.45" y2="1436" stroke-width="17.5" stroke-opacity="0.95"/>
<line x1="1835.15" y1="1436" x2="1874.75" y2="1436" stroke-width="17.5" stroke-opacity="0.95"/>
</g></g>
<rect x="1124" y="1396.9" width="791" height="2.0" fill="#fff" fill-opacity="0.9"/>
<rect x="1122.5" y="1395.4" width="794" height="77.1" fill="none" stroke="#000" stroke-width="3"/>
</g>
<line x1="1217.6" y1="883.6" x2="1217.6" y2="1482" stroke="#000" stroke-width="3"/>
<line x1="1393.0" y1="880" x2="1393.0" y2="1478" stroke="#000" stroke-width="3"/>
<line x1="1568.0" y1="880" x2="1568.0" y2="1478" stroke="#000" stroke-width="3"/>
<line x1="1743.3" y1="883.8" x2="1743.3" y2="1482" stroke="#000" stroke-width="3"/>
<text x="1011.7" y="987.4" font-size="32.5" font-weight="bold" textLength="86.2" lengthAdjust="spacingAndGlyphs" class="b">pFAK</text>
<text x="1009.9" y="1132.8" font-size="32.5" font-weight="bold" textLength="86.7" lengthAdjust="spacingAndGlyphs" class="b">E-cad</text>
<text x="1026.3" y="1288.4" font-size="32.5" font-weight="bold" textLength="70.3" lengthAdjust="spacingAndGlyphs" class="b">Slug</text>
<text x="976.5" y="1444.3" font-size="32.5" font-weight="bold" textLength="119.6" lengthAdjust="spacingAndGlyphs" class="b">GAPDH</text>
<text x="1170" y="1065.6" font-size="25.7" font-weight="bold" text-anchor="middle" textLength="36.5" lengthAdjust="spacingAndGlyphs" class="b">1.0</text>
<text x="1257.7" y="1065.6" font-size="25.7" font-weight="bold" text-anchor="middle" textLength="36.5" lengthAdjust="spacingAndGlyphs" class="b">2.1</text>
<text x="1345" y="1065.6" font-size="25.7" font-weight="bold" text-anchor="middle" textLength="36.5" lengthAdjust="spacingAndGlyphs" class="b">2.2</text>
<text x="1432.3" y="1065.6" font-size="25.7" font-weight="bold" text-anchor="middle" textLength="36.5" lengthAdjust="spacingAndGlyphs" class="b">1.7</text>
<text x="1520" y="1065.6" font-size="25.7" font-weight="bold" text-anchor="middle" textLength="36.5" lengthAdjust="spacingAndGlyphs" class="b">1.0</text>
<text x="1608" y="1065.6" font-size="25.7" font-weight="bold" text-anchor="middle" textLength="36.5" lengthAdjust="spacingAndGlyphs" class="b">0.4</text>
<text x="1695" y="1065.6" font-size="25.7" font-weight="bold" text-anchor="middle" textLength="36.5" lengthAdjust="spacingAndGlyphs" class="b">0.4</text>
<text x="1782.7" y="1065.6" font-size="25.7" font-weight="bold" text-anchor="middle" textLength="36.5" lengthAdjust="spacingAndGlyphs" class="b">0.2</text>
<text x="1870" y="1065.6" font-size="25.7" font-weight="bold" text-anchor="middle" textLength="36.5" lengthAdjust="spacingAndGlyphs" class="b">0.2</text>
<text x="1170" y="1214" font-size="25.7" font-weight="bold" text-anchor="middle" textLength="36.5" lengthAdjust="spacingAndGlyphs" class="b">1.0</text>
<text x="1257.7" y="1214" font-size="25.7" font-weight="bold" text-anchor="middle" textLength="36.5" lengthAdjust="spacingAndGlyphs" class="b">1.6</text>
<text x="1345" y="1214" font-size="25.7" font-weight="bold" text-anchor="middle" textLength="36.5" lengthAdjust="spacingAndGlyphs" class="b">1.5</text>
<text x="1432.3" y="1214" font-size="25.7" font-weight="bold" text-anchor="middle" textLength="36.5" lengthAdjust="spacingAndGlyphs" class="b">1.1</text>
<text x="1520" y="1214" font-size="25.7" font-weight="bold" text-anchor="middle" textLength="36.5" lengthAdjust="spacingAndGlyphs" class="b">1.6</text>
<text x="1608" y="1214" font-size="25.7" font-weight="bold" text-anchor="middle" textLength="36.5" lengthAdjust="spacingAndGlyphs" class="b">0.9</text>
<text x="1695" y="1214" font-size="25.7" font-weight="bold" text-anchor="middle" textLength="36.5" lengthAdjust="spacingAndGlyphs" class="b">2.1</text>
<text x="1782.7" y="1214" font-size="25.7" font-weight="bold" text-anchor="middle" textLength="36.5" lengthAdjust="spacingAndGlyphs" class="b">2.0</text>
<text x="1870" y="1214" font-size="25.7" font-weight="bold" text-anchor="middle" textLength="36.5" lengthAdjust="spacingAndGlyphs" class="b">1.8</text>
<text x="1180" y="1372.5" font-size="25.7" font-weight="bold" text-anchor="middle" textLength="36.5" lengthAdjust="spacingAndGlyphs" class="b">1.0</text>
<text x="1267.7" y="1372.5" font-size="25.7" font-weight="bold" text-anchor="middle" textLength="36.5" lengthAdjust="spacingAndGlyphs" class="b">2.3</text>
<text x="1355" y="1372.5" font-size="25.7" font-weight="bold" text-anchor="middle" textLength="36.5" lengthAdjust="spacingAndGlyphs" class="b">5.0</text>
<text x="1442.3" y="1372.5" font-size="25.7" font-weight="bold" text-anchor="middle" textLength="36.5" lengthAdjust="spacingAndGlyphs" class="b">3.7</text>
<text x="1530" y="1372.5" font-size="25.7" font-weight="bold" text-anchor="middle" textLength="36.5" lengthAdjust="spacingAndGlyphs" class="b">4.3</text>
<text x="1618" y="1372.5" font-size="25.7" font-weight="bold" text-anchor="middle" textLength="36.5" lengthAdjust="spacingAndGlyphs" class="b">2.8</text>
<text x="1705" y="1372.5" font-size="25.7" font-weight="bold" text-anchor="middle" textLength="36.5" lengthAdjust="spacingAndGlyphs" class="b">3.3</text>
<text x="1792.7" y="1372.5" font-size="25.7" font-weight="bold" text-anchor="middle" textLength="36.5" lengthAdjust="spacingAndGlyphs" class="b">2.3</text>
<text x="1880" y="1372.5" font-size="25.7" font-weight="bold" text-anchor="middle" textLength="36.5" lengthAdjust="spacingAndGlyphs" class="b">2.8</text>
<text x="1244.5" y="924" font-size="26.8" font-weight="bold" textLength="47" lengthAdjust="spacingAndGlyphs" class="b">12h</text>
<text x="1346.8" y="924" font-size="26.8" font-weight="bold" textLength="47.1" lengthAdjust="spacingAndGlyphs" class="b">24h</text>
<text x="1421.4" y="924" font-size="26.8" font-weight="bold" textLength="47" lengthAdjust="spacingAndGlyphs" class="b">12h</text>
<text x="1495.5" y="924" font-size="26.8" font-weight="bold" textLength="47.2" lengthAdjust="spacingAndGlyphs" class="b">24h</text>
<text x="1598.1" y="924" font-size="26.8" font-weight="bold" textLength="47.2" lengthAdjust="spacingAndGlyphs" class="b">12h</text>
<text x="1672.7" y="924" font-size="26.8" font-weight="bold" textLength="47" lengthAdjust="spacingAndGlyphs" class="b">24h</text>
<text x="1766.3" y="924" font-size="26.8" font-weight="bold" textLength="47" lengthAdjust="spacingAndGlyphs" class="b">12h</text>
<text x="1850.1" y="924" font-size="26.8" font-weight="bold" textLength="47" lengthAdjust="spacingAndGlyphs" class="b">24h</text>
<text x="1183" y="924" font-size="26.8" font-weight="bold" text-anchor="middle" class="b">-</text>
<text x="1204.5" y="842" font-size="31" font-weight="bold" font-style="italic" textLength="27" lengthAdjust="spacingAndGlyphs" class="b">S.</text>
<text x="1251" y="842" font-size="31" font-weight="bold" font-style="italic" textLength="144.5" lengthAdjust="spacingAndGlyphs" class="b">commune</text>
<text x="1448.1" y="813.8" font-size="30" font-weight="bold" textLength="75.4" lengthAdjust="spacingAndGlyphs" class="b">Black</text>
<text x="1448.1" y="849.7" font-size="30" font-weight="bold" textLength="75.4" lengthAdjust="spacingAndGlyphs" class="b">yeast</text>
<text x="1619.4" y="835.6" font-size="30" font-weight="bold" textLength="88" lengthAdjust="spacingAndGlyphs" class="b">Barely</text>
<text x="1778.7" y="835.6" font-size="30" font-weight="bold" font-style="italic" textLength="112" lengthAdjust="spacingAndGlyphs" class="b">Euglena</text>
<text x="1052" y="834.5" font-size="48" font-weight="bold" class="b sf">d</text>
</svg>
</body>
</html>
